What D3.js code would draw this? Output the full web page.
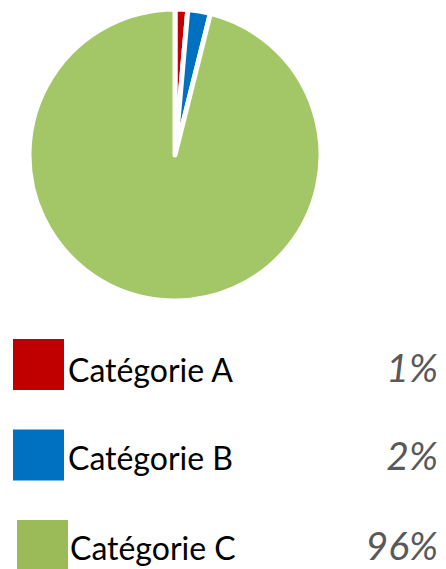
<!DOCTYPE html>
<html>
<head>
<meta charset="utf-8">
<script src="https://cdnjs.cloudflare.com/ajax/libs/d3/7.8.5/d3.min.js"></script>
<style>
  html, body { margin: 0; padding: 0; background: #ffffff; }
  #chart { width: 446px; height: 569px; overflow: hidden; }
</style>
</head>
<body>
<div id="chart"></div>
<script>
// data (labels show rounded percentages)
const categories = ['Catégorie A', 'Catégorie B', 'Catégorie C'];
const shares     = [1.4, 2.5, 96.1];
const pctLabels  = ['1%', '2%', '96%'];
const sliceColors  = ['#C00000', '#0070C0', '#A3C666'];
const legendColors = ['#C00000', '#0070C0', '#9BBB59'];

function PieChart(divID) {
  const widthContainer  = 446;
  const heightContainer = 569;
  const center = {x: 175, y: 155};
  const radius = 146;

  d3.select('#' + divID).selectAll('svg').remove();

  let svg = d3.select('#' + divID)
    .append('svg')
    .attr('width',  widthContainer)
    .attr('height', heightContainer)
    .attr('viewBox', `0 0 ${widthContainer} ${heightContainer}`);

  let rows = categories.map((c, i) => ({cat: c, value: shares[i], pct: pctLabels[i], i: i}));

  let pie = d3.pie()
    .sort(null)
    .value(d => d.value);

  let arc = d3.arc()
    .innerRadius(0)
    .outerRadius(radius);

  // Slices
  svg.append('g')
    .attr('transform', `translate(${center.x}, ${center.y})`)
    .selectAll('path')
    .data(pie(rows))
    .enter()
    .append('path')
    .attr('d', arc)
    .style('fill', d => sliceColors[d.data.i])
    .style('stroke', '#ffffff')
    .style('stroke-width', 5)
    .style('stroke-linejoin', 'round');

  // Legend
  let yScale = d3.scalePoint()
    .domain(categories)
    .range([339, 520]);

  let legend = svg.append('g')
    .attr('class', 'legend')
    .selectAll('g')
    .data(rows)
    .enter()
    .append('g')
    .attr('transform', d => `translate(0, ${yScale(d.cat)})`);

  legend.append('rect')
    .attr('x', d => d.i === 2 ? 17 : 13)
    .attr('y', 0)
    .attr('width',  51)
    .attr('height', 51)
    .style('fill', d => legendColors[d.i]);

  legend.append('text')
    .attr('x', d => d.i === 2 ? 70 : 68)
    .attr('y', d => d.i === 0 ? 43 : 40)
    .style('font-family', 'Lato, "Open Sans", sans-serif')
    .style('font-size', '32px')
    .style('fill', '#000000')
    .text(d => d.cat);

  legend.append('text')
    .attr('x', 438)
    .attr('y', d => d.i === 0 ? 43 : 40)
    .attr('text-anchor', 'end')
    .style('font-family', 'Lato, "Open Sans", sans-serif')
    .style('font-style', 'italic')
    .style('font-size', '39px')
    .style('fill', '#595959')
    .text(d => d.pct);
}

PieChart('chart');
</script>
</body>
</html>
